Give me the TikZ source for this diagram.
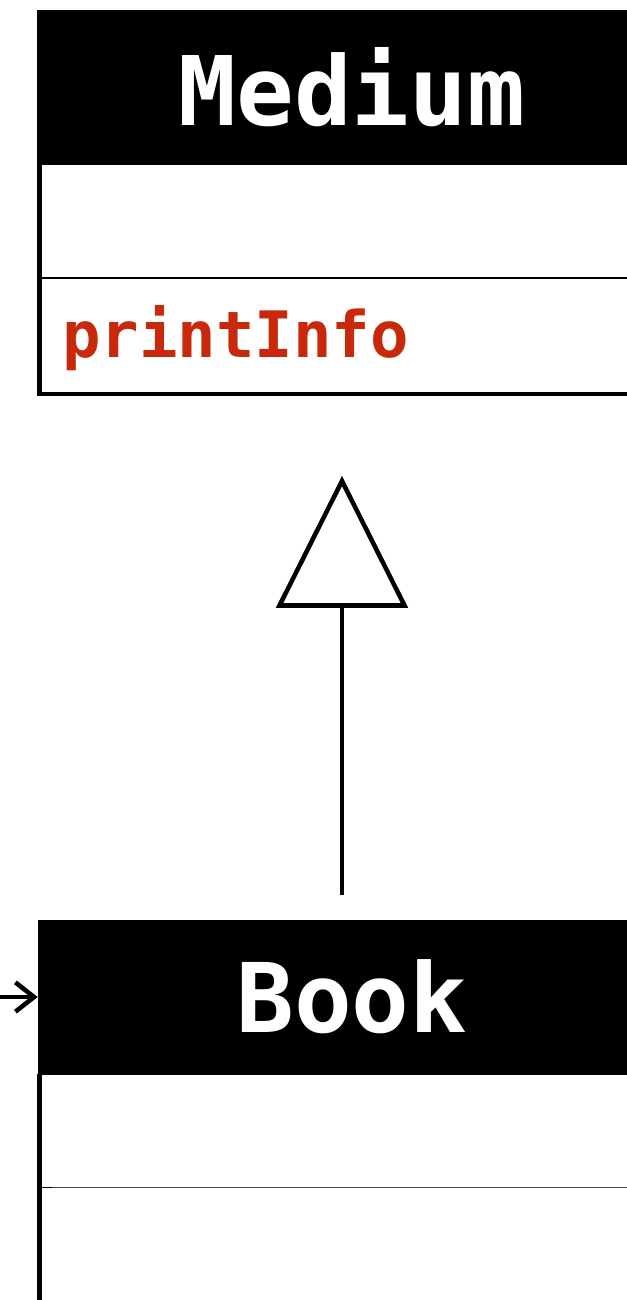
\documentclass[tikz,border=0pt]{standalone}
\usepackage{fontspec}
\setmonofont{DejaVu Sans Mono}
\usetikzlibrary{arrows.meta}
\definecolor{methred}{HTML}{C8290A}
\tikzset{
  classhead/.style={fill=black, text=white, minimum width=471pt, minimum height=116.25pt,
    inner sep=0pt, font=\ttfamily\bfseries\fontsize{72}{76}\selectfont},
  border/.style={line width=3.3pt},
  sepline/.style={line width=1.6pt},
  thinsep/.style={line width=0.75pt, draw=black!70},
  method/.style={text=methred, anchor=base west, inner sep=0pt, font=\ttfamily\bfseries\fontsize{48}{52}\selectfont},
  conn/.style={line width=3.4pt},
}
\begin{document}
\begin{tikzpicture}[x=0.75pt,y=-0.75pt]
\useasboundingbox (0,0) rectangle (626,1300);
% Medium class
\node[classhead] (medium) at (352,87.5) {Medium};
\draw[sepline] (40,278) -- (680,278);
\draw[border] (39.5,10) -- (39.5,394) -- (680,394);
\node[method] (printinfo) at (62,357) {printInfo};
% generalization
\coordinate (apex) at (342,481);
\coordinate (bl) at (279.5,605.5);
\coordinate (br) at (404.5,605.5);
\coordinate (genbase) at (342,605.5);
\coordinate (genfrom) at (342,895);
\draw[conn, fill=white, line join=miter] (apex) -- (bl) -- (br) -- cycle;
\draw[conn] (genfrom) -- (genbase);
% Book class
\node[classhead] (book) at (352,997) {Book};
\draw[thinsep] (40,1187) -- (680,1187);
\draw[line width=1.2pt] (40,1187.5) -- (52,1187.5);
\draw[border] (39.5,1074) -- (39.5,1300);
% incoming arrow
\coordinate (src) at (0,997);
\draw[conn, -{Straight Barb[length=14pt,width=22pt]}] (src) -- (book.west);
\end{tikzpicture}
\end{document}
